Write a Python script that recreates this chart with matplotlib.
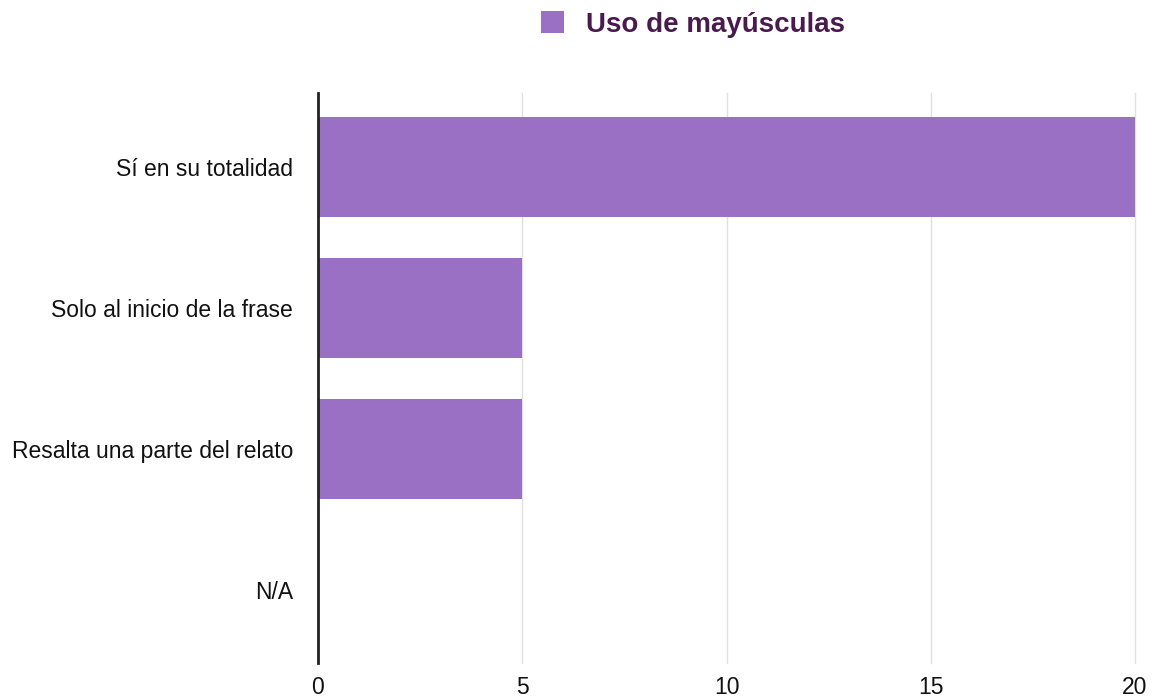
import matplotlib.pyplot as plt
from matplotlib.patches import Patch

plt.rcParams['font.family'] = ['Liberation Sans', 'DejaVu Sans']

categories = ['Sí en su totalidad', 'Solo al inicio de la frase',
              'Resalta una parte del relato', 'N/A']
values = [20, 5, 5, 0]
series_name = 'Uso de mayúsculas'
x_ticks = [0, 5, 10, 15, 20]

bar_color = '#9970c4'

fig = plt.figure(figsize=(11.65, 6.97), dpi=100)
ax = fig.add_axes([318 / 1165, 1 - 663 / 697, (1135 - 318) / 1165, (663 - 93) / 697])

pos = list(range(len(categories)))
ax.barh(pos, values, height=0.71, color=bar_color, zorder=2)
ax.set_yticks(pos)
ax.set_yticklabels(categories)
ax.set_ylim(3.52, -0.525)

ax.set_xlim(0, 20)
ax.set_xticks(x_ticks)
ax.grid(axis='x', color='#e0e0e0', linewidth=1, zorder=0)
for gl in ax.get_xgridlines():
    gl.set_clip_on(False)
ax.tick_params(axis='both', length=0, labelsize=16.5, colors='#111111')
ax.tick_params(axis='y', pad=18)
ax.tick_params(axis='x', pad=9)

for side in ['top', 'right', 'bottom']:
    ax.spines[side].set_visible(False)
ax.spines['left'].set_color('#222222')
ax.spines['left'].set_linewidth(2)
ax.spines['left'].set_zorder(3)

handle = Patch(facecolor=bar_color, edgecolor='none')
fig.legend([handle], [series_name], loc='center', bbox_to_anchor=(0.595, 0.965),
           frameon=False, handlelength=0.8, handleheight=0.8, handletextpad=0.8,
           prop={'size': 20, 'weight': 'bold'}, labelcolor='#4a1a4f')

fig.savefig('out.png', dpi=100)
